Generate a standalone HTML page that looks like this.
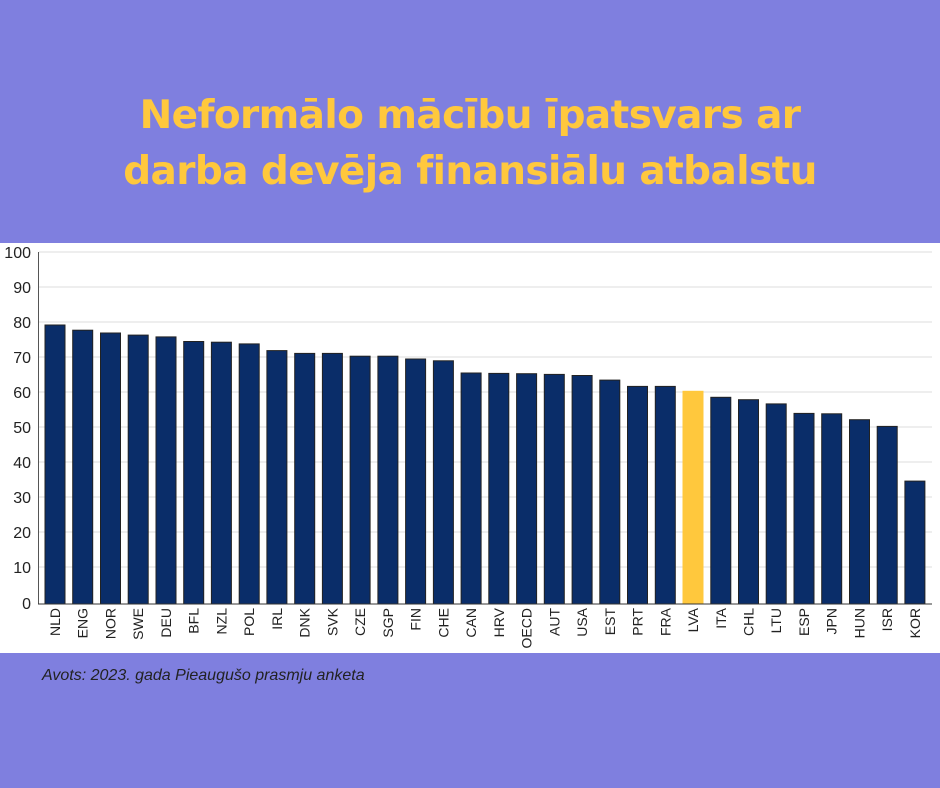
<!DOCTYPE html>
<html><head><meta charset="utf-8"><style>
html,body{margin:0;padding:0}
body{width:940px;height:788px;background:#7f7fdf;position:relative;overflow:hidden;font-family:"Liberation Sans",sans-serif}
.t{position:absolute;left:0;width:940px;text-align:center;color:#ffc83d;font-weight:bold;font-size:39px;line-height:56px;top:88px;font-family:"DejaVu Sans","Liberation Sans",sans-serif;letter-spacing:-0.6px}
.panel{position:absolute;left:0;top:243px;width:940px;height:410px;background:#fff}
.src{position:absolute;left:42px;top:667px;font-size:16px;font-style:italic;color:#222}
</style></head><body>
<div class="t">Neformālo mācību īpatsvars ar<br>darba devēja finansiālu atbalstu</div>
<div class="panel"></div>
<svg style="position:absolute;left:0;top:0" width="940" height="788" font-family="Liberation Sans, sans-serif">
<g stroke="#dedede" stroke-width="1">
<line x1="39" x2="932" y1="252" y2="252"/><line x1="39" x2="932" y1="287" y2="287"/><line x1="39" x2="932" y1="322" y2="322"/><line x1="39" x2="932" y1="357" y2="357"/><line x1="39" x2="932" y1="392" y2="392"/><line x1="39" x2="932" y1="427" y2="427"/><line x1="39" x2="932" y1="462" y2="462"/><line x1="39" x2="932" y1="497" y2="497"/><line x1="39" x2="932" y1="532" y2="532"/><line x1="39" x2="932" y1="567" y2="567"/>
</g>
<g font-size="16" fill="#222" text-anchor="end">
<text x="31" y="258">100</text><text x="31" y="293">90</text><text x="31" y="328">80</text><text x="31" y="363">70</text><text x="31" y="398">60</text><text x="31" y="433">50</text><text x="31" y="468">40</text><text x="31" y="503">30</text><text x="31" y="538">20</text><text x="31" y="573">10</text><text x="31" y="609">0</text>
</g>
<g id="bars"></g>
<line x1="38.5" x2="38.5" y1="252" y2="604" stroke="#555"/>
<line x1="38" x2="932" y1="604" y2="604" stroke="#333"/>
<g id="labels" font-size="14" fill="#222"></g>
</svg>
<div class="src">Avots: 2023. gada Pieaugušo prasmju anketa</div>
<script>
var d=[["NLD",79.5],["ENG",78],["NOR",77.2],["SWE",76.6],["DEU",76.1],["BFL",74.8],["NZL",74.6],["POL",74.1],["IRL",72.2],["DNK",71.4],["SVK",71.4],["CZE",70.6],["SGP",70.6],["FIN",69.8],["CHE",69.3],["CAN",65.8],["HRV",65.7],["OECD",65.6],["AUT",65.4],["USA",65.1],["EST",63.8],["PRT",62],["FRA",62],["LVA",60.6],["ITA",58.9],["CHL",58.2],["LTU",57],["ESP",54.3],["JPN",54.2],["HUN",52.5],["ISR",50.6],["KOR",35]];
var b="",l="";
d.forEach(function(e,i){var x=45+i*27.74,h=e[1]*3.51,y=604-h;
var c=e[0]=="LVA"?"#ffc83d":"#0a2d69",s=e[0]=="LVA"?"#ffc83d":"#222";
b+='<rect x="'+x.toFixed(1)+'" y="'+y.toFixed(1)+'" width="20" height="'+h.toFixed(1)+'" fill="'+c+'" stroke="'+s+'" stroke-width="1"/>';
var cx=x+10+5;l+='<text transform="translate('+cx.toFixed(1)+',608) rotate(-90)" text-anchor="end">'+e[0]+'</text>';});
document.getElementById("bars").innerHTML=b;document.getElementById("labels").innerHTML=l;
</script>
</body></html>
